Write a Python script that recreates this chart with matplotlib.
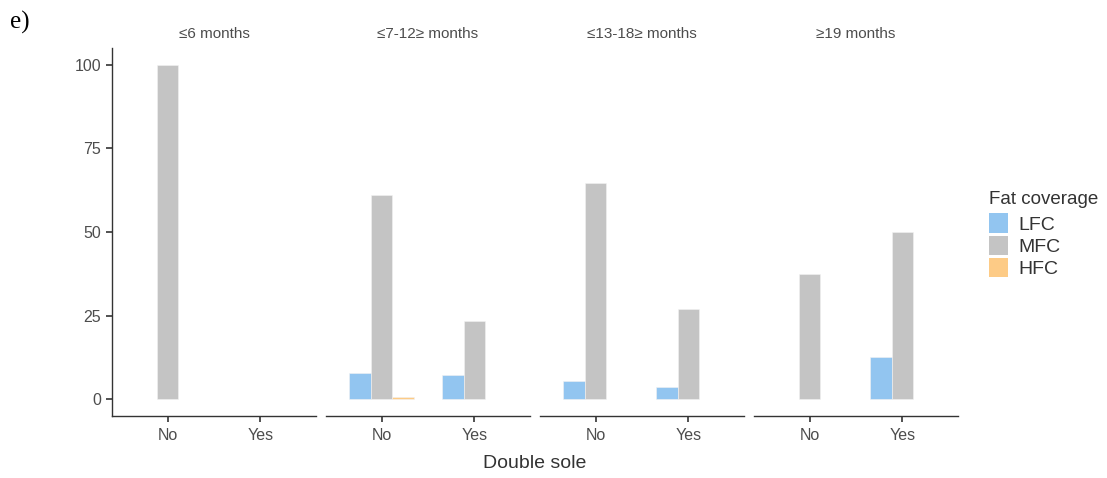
import numpy as np
import matplotlib
matplotlib.use("Agg")
import matplotlib.pyplot as plt
from matplotlib.patches import Patch

plt.rcParams['font.family'] = ['Liberation Sans', 'DejaVu Sans']

# data (percent)
age_groups = ['≤6 months', '≤7-12≥ months', '≤13-18≥ months', '≥19 months']
double_sole = ['No', 'Yes']
fat_levels = ['LFC', 'MFC', 'HFC']
lfc = [[0, 0], [7.8, 7.2], [5.4, 3.6], [0, 12.5]]
mfc = [[100, 0], [61.2, 23.3], [64.5, 26.9], [37.5, 50.0]]
hfc = [[0, 0], [0.8, 0], [0, 0], [0, 0]]
colors = ['#92C5F0', '#C4C4C4', '#FDCB86']

W, H = 1107, 478
fig = plt.figure(figsize=(W / 100, H / 100), dpi=100)

txt = '#4D4D4D'
axc = '#333333'
pw, gap = 204, 10
left0, bottom, top = 112, 416, 48
bw = 0.7 / 3

axes = []
for i, grp in enumerate(age_groups):
    x0 = left0 + i * (pw + gap)
    ax = fig.add_axes([x0 / W, (H - bottom) / H, pw / W, (bottom - top) / H])
    axes.append(ax)
    series = [lfc[i], mfc[i], hfc[i]]
    for j, vals in enumerate(series):
        for k, v in enumerate(vals):
            if v > 0:
                ax.bar(k + (j - 1) * bw, v, width=bw, color=colors[j],
                       edgecolor='#F2F2F2', linewidth=0.4)
    ax.set_xlim(-0.6, 1.6)
    ax.set_ylim(-5, 105)
    ax.set_xticks([0, 1])
    ax.set_xticklabels(double_sole)
    ax.tick_params(axis='x', colors=axc, labelcolor=txt, labelsize=11.5, length=4, width=1.2, pad=5)
    for s in ['top', 'right']:
        ax.spines[s].set_visible(False)
    ax.spines['bottom'].set_color(axc)
    ax.spines['bottom'].set_linewidth(1.0)
    if i == 0:
        ax.set_yticks([0, 25, 50, 75, 100])
        ax.tick_params(axis='y', colors=axc, labelcolor=txt, labelsize=11.5, length=4, width=1.2, pad=4)
        ax.spines['left'].set_color(axc)
        ax.spines['left'].set_linewidth(1.0)
    else:
        ax.set_yticks([])
        ax.spines['left'].set_visible(False)
    ax.set_title(grp, fontsize=11, color=txt, pad=7)

fig.text((left0 + (4 * pw + 3 * gap) / 2) / W, 1 - 464 / H, 'Double sole',
         ha='center', va='center', fontsize=14, color='#333333')
fig.text(10 / W, 1 - 22 / H, 'e)', fontfamily='Liberation Serif', fontsize=18,
         ha='left', va='center', color='black')

handles = [Patch(facecolor=c, edgecolor='none') for c in colors]
leg = fig.legend(handles, fat_levels, title='Fat coverage', loc='upper left',
                 bbox_to_anchor=(981 / W, 1 - 183 / H), frameon=False,
                 fontsize=14, title_fontsize=13.5, handlelength=1.0, handleheight=1.15,
                 handletextpad=0.5, labelspacing=0.1, borderaxespad=0)
leg._legend_box.align = 'left'
leg._legend_box.sep = 4
for t in leg.get_texts():
    t.set_color('#333333')
leg.get_title().set_color('#333333')

fig.savefig('out.png', dpi=100)
